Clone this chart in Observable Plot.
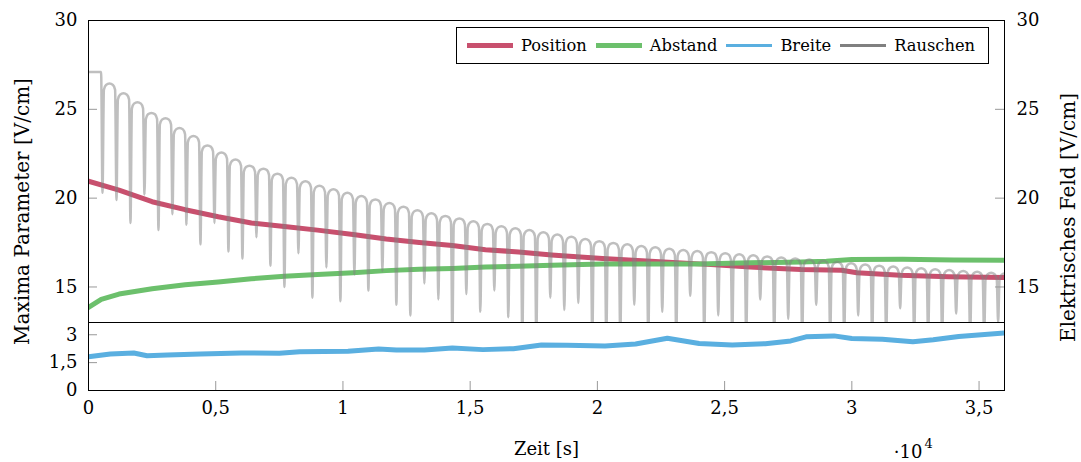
<!DOCTYPE html>
<html>
<head>
<meta charset="utf-8">
<script src="https://cdn.jsdelivr.net/npm/d3@7"></script>
<script src="https://cdn.jsdelivr.net/npm/@observablehq/plot@0.6"></script>
<style>
  html, body { margin: 0; padding: 0; background: #fff; }
  #chart { position: relative; width: 1081px; height: 462px; font-family: "DejaVu Serif", serif; }
  #chart svg { position: absolute; left: 0; top: 0; }
  .legend { position: absolute; left: 456px; top: 27px; width: 533px; height: 37px; box-sizing: border-box;
            border: 1px solid #000; background: #fff; display: flex; align-items: center; padding-left: 10px;
            font-family: "DejaVu Serif", serif; font-size: 16.3px; color: #000; }
  .legend .item { display: flex; align-items: center; margin-right: 9px; }
  .legend .swatch { width: 46px; margin-right: 8px; }
</style>
</head>
<body>
<div id="chart"></div>
<script>
// Series names and colours (legend order = drawing order)
const seriesNames = ["Position", "Abstand", "Breite", "Rauschen"];
const seriesColors = ["#c8506e", "#6cc06c", "#5aafe0", "#808080"];

// Position of the field maximum [V/cm] over time [s]
const positionZeit = [0, 1200, 2500, 3800, 5100, 6400, 7700, 9000, 10400, 11700, 13000, 14300, 15600, 16900, 18200, 20200, 22100, 24000, 26000, 28000, 29600, 30200, 31900, 33800, 36000];
const position = [20.95, 20.45, 19.8, 19.35, 18.95, 18.6, 18.4, 18.2, 17.95, 17.7, 17.5, 17.33, 17.1, 16.97, 16.8, 16.6, 16.45, 16.3, 16.12, 15.98, 15.94, 15.8, 15.66, 15.58, 15.53];

// Distance between maxima [V/cm]
const abstandZeit = [0, 500, 1200, 2500, 3800, 5100, 6400, 7700, 9000, 10400, 11700, 13000, 14300, 15600, 16900, 18200, 20200, 22100, 24000, 26000, 28000, 29000, 30000, 32000, 34000, 36000];
const abstand = [13.85, 14.3, 14.6, 14.9, 15.12, 15.28, 15.46, 15.6, 15.7, 15.8, 15.92, 16.0, 16.04, 16.12, 16.16, 16.22, 16.3, 16.3, 16.3, 16.36, 16.4, 16.45, 16.54, 16.56, 16.52, 16.5];

// Width of the maxima (lower panel)
const breiteZeit = [0, 860, 1780, 2300, 3100, 4400, 6000, 7500, 8300, 10200, 11400, 12100, 13200, 14300, 15500, 16700, 17800, 18800, 20300, 21500, 22750, 24000, 25300, 26600, 27600, 28200, 29300, 30000, 31200, 32400, 33200, 34200, 36000];
const breite = [1.82, 1.96, 2.02, 1.87, 1.91, 1.96, 2.02, 2.0, 2.09, 2.11, 2.24, 2.18, 2.18, 2.29, 2.2, 2.25, 2.45, 2.43, 2.4, 2.5, 2.81, 2.53, 2.45, 2.52, 2.67, 2.89, 2.94, 2.8, 2.76, 2.62, 2.73, 2.91, 3.1];

// Noise of the electric field: one arched high level and one dip per cycle
const noiseCycle = 550;
const noisePeak = [27.1, 26.45, 25.9, 25.4, 24.8, 24.5, 23.95, 23.5, 22.97, 22.57,
  22.17, 21.83, 21.66, 21.38, 21.15, 20.95, 20.7, 20.5, 20.3, 20.12,
  19.93, 19.73, 19.52, 19.32, 19.15, 19.0, 18.86, 18.7, 18.55, 18.42,
  18.3, 18.2, 18.08, 17.95, 17.83, 17.7, 17.58, 17.48, 17.4, 17.3,
  17.23, 17.15, 17.08, 17.02, 16.96, 16.9, 16.84, 16.78, 16.72, 16.66,
  16.6, 16.54, 16.47, 16.4, 16.33, 16.26, 16.2, 16.15, 16.1, 16.05,
  16.0, 15.95, 15.9, 15.85, 15.8, 15.77];
const noiseDip = [20.3, 19.9, 18.6, 20.2, 18.2, 19.1, 18.5, 17.4, 18.6, 17.0,
  16.6, 17.8, 16.2, 15.0, 16.9, 14.4, 16.1, 14.2, 15.7, 14.8,
  15.9, 14.0, 13.4, 15.2, 14.3, 12.0, 14.6, 13.6, 14.8, 13.3,
  12.0, 12.0, 14.4, 13.7, 14.1, 12.0, 12.0, 12.0, 14.0, 12.0,
  13.6, 12.0, 14.5, 12.0, 13.4, 12.0, 12.0, 14.3, 12.0, 13.2,
  12.0, 14.0, 12.0, 12.0, 13.4, 12.0, 12.0, 13.8, 12.0, 12.0,
  12.0, 13.5, 12.0, 12.0, 13.0];
// Arch of one cycle: [fraction of cycle, drop below the cycle's high level]
const archShape = [[0.1, 0.35], [0.25, 0.08], [0.5, 0], [0.75, 0.08], [0.9, 0.35]];

// Axis ticks
const zeitTicks = [0, 5000, 10000, 15000, 20000, 25000, 30000, 35000];
const feldTicks = [15, 20, 25, 30];
const breiteTicks = [0, 1.5, 3];

const toRows = (ts, vs) => ts.map((t, i) => ({t, v: vs[i]}));
const positionRows = toRows(positionZeit, position);
const abstandRows = toRows(abstandZeit, abstand);
const breiteRows = toRows(breiteZeit, breite);

const noiseRows = [];
noisePeak.forEach((p, i) => {
  const t0 = i * noiseCycle;
  if (i === 0) {
    noiseRows.push({t: 0, v: p});
    noiseRows.push({t: 0.9 * noiseCycle, v: p});
    return;
  }
  noiseRows.push({t: t0, v: noiseDip[i - 1]});
  archShape.forEach(([f, drop]) => noiseRows.push({t: t0 + f * noiseCycle, v: p - drop}));
});

const comma = d => String(d).replace(".", ",");
const W = 1081, H = 462, ML = 88, MR = 77;
const plotW = W - ML - MR;
const font = {fontFamily: "'DejaVu Serif', serif", fontSize: "18px", background: "transparent"};

// Upper panel: position, distance and noise
const upper = Plot.plot({
  width: W, height: H,
  marginTop: 20, marginBottom: 140, marginLeft: ML, marginRight: MR,
  style: font,
  x: {domain: [0, 36000], axis: null},
  y: {domain: [13, 30], axis: null},
  marks: [
    Plot.line(positionRows, {x: "t", y: "v", stroke: seriesColors[0], strokeWidth: 5, clip: true}),
    Plot.line(abstandRows, {x: "t", y: "v", stroke: seriesColors[1], strokeWidth: 5, clip: true}),
    Plot.line(noiseRows, {x: "t", y: "v", stroke: seriesColors[3], strokeOpacity: 0.5, strokeWidth: 2.5, curve: "monotone-x", clip: true}),
    Plot.tickY(feldTicks, {y: d => d, stroke: "#999", insetRight: plotW - 9}),
    Plot.tickY(feldTicks, {y: d => d, stroke: "#999", insetLeft: plotW - 9}),
    Plot.frame({stroke: "#000", strokeWidth: 1}),
    Plot.axisY(feldTicks, {anchor: "left", tickSize: 0, tickPadding: 11, fontSize: 18, label: null}),
    Plot.axisY(feldTicks, {anchor: "right", tickSize: 0, tickPadding: 12, fontSize: 18, label: null}),
    Plot.text(["Maxima Parameter [V/cm]"], {text: d => d, frameAnchor: "left", rotate: -90, dx: -66, dy: 40, fontSize: 20, textAnchor: "middle", lineAnchor: "middle"}),
    Plot.text(["Elektrisches Feld [V/cm]"], {text: d => d, frameAnchor: "right", rotate: -90, dx: 64, dy: 46, fontSize: 20, textAnchor: "middle", lineAnchor: "middle"})
  ]
});

// Lower panel: width of the maxima and shared time axis
const lower = Plot.plot({
  width: W, height: H,
  marginTop: 322, marginBottom: 72, marginLeft: ML, marginRight: MR,
  style: font,
  x: {domain: [0, 36000], axis: null},
  y: {domain: [0, 3.66], axis: null},
  marks: [
    Plot.line(breiteRows, {x: "t", y: "v", stroke: seriesColors[2], strokeWidth: 5, clip: true}),
    Plot.tickY(breiteTicks, {y: d => d, stroke: "#999", insetRight: plotW - 9}),
    Plot.tickX(zeitTicks, {x: d => d, stroke: "#999", insetTop: 68 - 9}),
    Plot.frame({stroke: "#000", strokeWidth: 1}),
    Plot.axisY(breiteTicks, {anchor: "left", tickSize: 0, tickPadding: 11, fontSize: 18, tickFormat: comma, label: null}),
    Plot.axisX(zeitTicks, {anchor: "bottom", tickSize: 0, tickPadding: 11, fontSize: 18, tickFormat: d => comma(d / 1e4), label: null}),
    Plot.text(["Zeit [s]"], {text: d => d, frameAnchor: "bottom", dy: 59, fontSize: 18, lineAnchor: "middle"}),
    Plot.text(["·10"], {text: d => d, frameAnchor: "bottom-right", dx: -82, dy: 62, fontSize: 18, textAnchor: "end", lineAnchor: "middle"}),
    Plot.text(["4"], {text: d => d, frameAnchor: "bottom-right", dx: -80, dy: 53, fontSize: 13, textAnchor: "start", lineAnchor: "middle"})
  ]
});

const chart = document.getElementById("chart");
chart.appendChild(upper);
chart.appendChild(lower);

// Legend box
const legend = document.createElement("div");
legend.className = "legend";
seriesNames.forEach((name, i) => {
  const item = document.createElement("div");
  item.className = "item";
  const sw = document.createElement("div");
  sw.className = "swatch";
  sw.style.background = seriesColors[i];
  sw.style.height = i < 2 ? "4.5px" : "2.5px";
  const label = document.createElement("span");
  label.textContent = name;
  item.appendChild(sw);
  item.appendChild(label);
  legend.appendChild(item);
});
chart.appendChild(legend);
</script>
</body>
</html>
